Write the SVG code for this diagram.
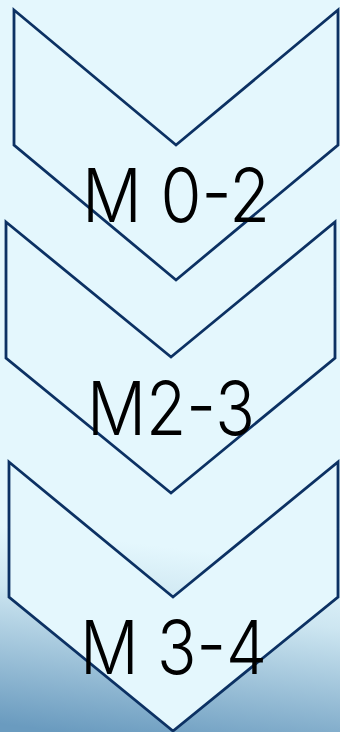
<svg xmlns="http://www.w3.org/2000/svg" width="340" height="732" viewBox="0 0 340 732">
<defs>
<linearGradient id="bg" gradientUnits="userSpaceOnUse" x1="190" y1="550" x2="165" y2="745">
<stop offset="0" stop-color="#E4F7FD"/>
<stop offset="0.3" stop-color="#CDE6F1"/>
<stop offset="1" stop-color="#6A9BBF"/>
</linearGradient>
<style>
.chev{fill:#E4F7FD;stroke:#0C3163;stroke-width:2.8;stroke-linejoin:miter}
.lbl{font-family:Inter,"Noto Sans",sans-serif;font-weight:300;font-size:74px;fill:#000;text-anchor:middle}
</style>
</defs>
<rect width="340" height="732" fill="url(#bg)"/>
<g id="step1">
<polygon class="chev" points="14,10 176,145 338,10 338,145 176,280 14,145"/>
</g>
<g id="step2">
<polygon class="chev" points="6,222 171,357 335,222 335,358 171,493 6,358"/>
</g>
<g id="step3">
<polygon class="chev" points="9,462 173,597 338,462 338,597 173,731 9,597"/>
</g>
<g id="connectors"></g>
<g id="labels">
<text class="lbl" x="176" y="222" textLength="188" lengthAdjust="spacingAndGlyphs">M 0-2</text>
<text class="lbl" x="171" y="435" textLength="168" lengthAdjust="spacingAndGlyphs">M2-3</text>
<text class="lbl" x="173.5" y="674" textLength="187" lengthAdjust="spacingAndGlyphs">M 3-4</text>
</g>
</svg>
